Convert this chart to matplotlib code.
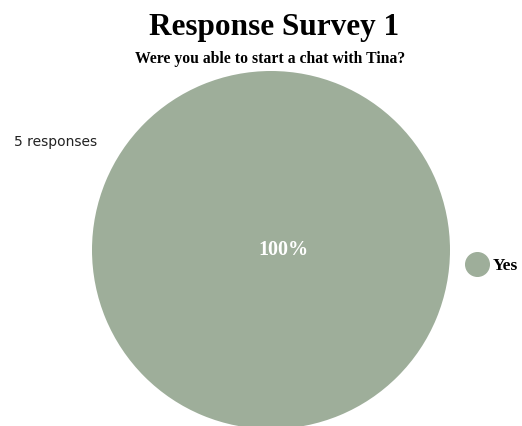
import matplotlib
matplotlib.use("Agg")
import matplotlib.pyplot as plt
from matplotlib.lines import Line2D

labels = ["Yes"]
values = [5]
pct_labels = ["100%"]
title = "Response Survey 1"
question = "Were you able to start a chat with Tina?"
n_text = "5 responses"

COLOR = "#9eae9a"
W, H = 522, 426

fig = plt.figure(figsize=(W / 100, H / 100), dpi=100)
fig.patch.set_facecolor("white")

# pie axes placed in pixel coords: center (271, 250), radius 179
cx, cy, r = 271, 250, 179
ax = fig.add_axes([(cx - r) / W, (H - cy - r) / H, 2 * r / W, 2 * r / H])
wedges, _ = ax.pie(values, colors=[COLOR], startangle=90, radius=1.0)
ax.set_xlim(-1, 1); ax.set_ylim(-1, 1)
ax.set_aspect("auto")
ax.axis("off")
ax.text(0.07, 0.0, pct_labels[0], color="white", ha="center", va="center",
        fontsize=14.5, fontweight="bold", family="Liberation Serif")

fig.text(274 / W, 1 - 28 / H, title, ha="center", va="center",
         fontsize=22.5, fontweight="bold", family="Liberation Serif")
fig.text(270 / W, 1 - 59 / H, question, ha="center", va="center",
         fontsize=11.3, fontweight="bold", family="Liberation Serif")
fig.text(14 / W, 1 - 142 / H, n_text, ha="left", va="center",
         fontsize=10, family="DejaVu Sans", color="#222222")

handles = [Line2D([0], [0], marker="o", linestyle="", markersize=17,
                  markerfacecolor=COLOR, markeredgecolor=COLOR)]
leg = fig.legend(handles, labels, loc="center left", bbox_to_anchor=(460 / W, 1 - 266 / H),
                 frameon=False, handletextpad=0.3, borderaxespad=0, handlelength=1.2,
                 prop={"family": "Liberation Serif", "weight": "bold", "size": 12.5})

fig.savefig("out.png", dpi=100)
